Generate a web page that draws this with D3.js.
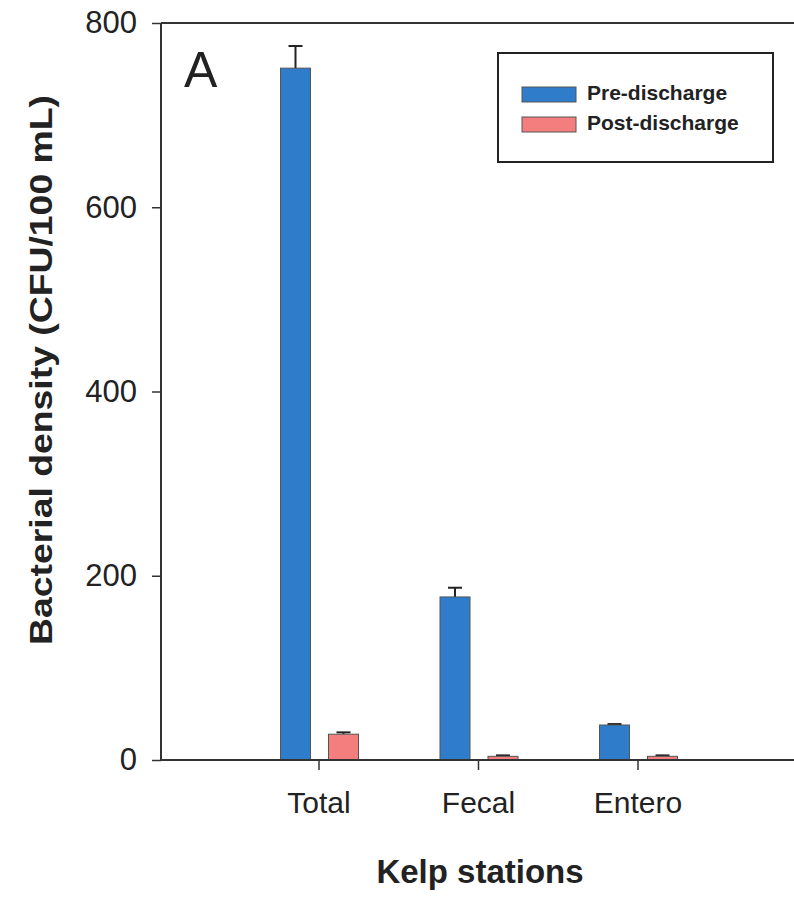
<!DOCTYPE html>
<html>
<head>
<meta charset="utf-8">
<script src="https://cdn.jsdelivr.net/npm/d3@7"></script>
<style>
  body { margin: 0; background: #fff; }
  text { font-family: "Liberation Sans", Arial, sans-serif; fill: #222; }
</style>
</head>
<body>
<div id="container"></div>
<script>
const categories = ["Total", "Fecal", "Entero"];
const seriesNames = ["Pre-discharge", "Post-discharge"];
const preValues = [751, 177, 38];
const preErrors = [24, 10, 1];
const postValues = [28, 4, 4];
const postErrors = [2, 1, 1];
const yTicks = [0, 200, 400, 600, 800];

const width = 794, height = 897;
const plotLeft = 161, plotTop = 23, plotBottom = 760, plotRight = 800;
const colors = { "Pre-discharge": "#2f7ccb", "Post-discharge": "#f47e7e" };

const svg = d3.select('#container')
  .append('svg')
  .attr('width', width)
  .attr('height', height);

const yScale = d3.scaleLinear().domain([0, 800]).range([plotBottom, plotTop]);
// category positions 1..3 on a 0..4 index scale
const xScale = d3.scaleLinear().domain([0, 4]).range([159, 797]);
const inner = d3.scaleBand().domain(seriesNames).range([-38, 40]).paddingInner(0.375);

const rows = categories.map((c, i) => ({
  cat: c, i: i + 1,
  bars: [
    { name: seriesNames[0], value: preValues[i], err: preErrors[i] },
    { name: seriesNames[1], value: postValues[i], err: postErrors[i] }
  ]
}));

// bars
const groups = svg.append('g').selectAll('g')
  .data(rows).join('g')
  .attr('transform', d => `translate(${xScale(d.i)},0)`);

groups.selectAll('line.err')
  .data(d => d.bars).join('line')
  .attr('class', 'err')
  .attr('x1', d => inner(d.name) + inner.bandwidth() / 2)
  .attr('x2', d => inner(d.name) + inner.bandwidth() / 2)
  .attr('y1', d => yScale(d.value))
  .attr('y2', d => yScale(d.value + d.err))
  .attr('stroke', '#222').attr('stroke-width', 2);

groups.selectAll('line.cap')
  .data(d => d.bars).join('line')
  .attr('class', 'cap')
  .attr('x1', d => inner(d.name) + inner.bandwidth() / 2 - 7)
  .attr('x2', d => inner(d.name) + inner.bandwidth() / 2 + 7)
  .attr('y1', d => yScale(d.value + d.err))
  .attr('y2', d => yScale(d.value + d.err))
  .attr('stroke', '#222').attr('stroke-width', 2);

groups.selectAll('rect')
  .data(d => d.bars).join('rect')
  .attr('x', d => inner(d.name))
  .attr('width', inner.bandwidth())
  .attr('y', d => yScale(d.value))
  .attr('height', d => yScale(0) - yScale(d.value))
  .attr('fill', d => colors[d.name])
  .attr('stroke', '#555')
  .attr('stroke-width', 1);

// frame line along the top
svg.append('line')
  .attr('x1', plotLeft).attr('x2', plotRight).attr('y1', plotTop).attr('y2', plotTop)
  .attr('stroke', '#333').attr('stroke-width', 2);

// y axis
const yAxis = svg.append('g')
  .attr('transform', `translate(${plotLeft},0)`)
  .call(d3.axisLeft(yScale).tickValues(yTicks).tickSize(9).tickPadding(15));
yAxis.select('.domain').attr('stroke', '#333').attr('stroke-width', 2)
  .attr('d', `M0,${plotTop}V${plotBottom}`);
yAxis.selectAll('.tick line').attr('stroke', '#333').attr('stroke-width', 1.5);
yAxis.selectAll('.tick text')
  .style('font-family', '"Liberation Sans", Arial, sans-serif')
  .style('font-size', '31px').attr('fill', '#222');

// x axis
const xAxis = svg.append('g')
  .attr('transform', `translate(0,${plotBottom})`)
  .call(d3.axisBottom(xScale).tickValues([1, 2, 3])
    .tickFormat(d => categories[d - 1]).tickSize(10).tickPadding(22));
xAxis.select('.domain').attr('stroke', '#333').attr('stroke-width', 2)
  .attr('d', `M${plotLeft},0H${plotRight}`);
xAxis.selectAll('.tick line').attr('stroke', '#333').attr('stroke-width', 1.5);
xAxis.selectAll('.tick text')
  .style('font-family', '"Liberation Sans", Arial, sans-serif')
  .style('font-size', '30px').attr('fill', '#222');

// axis titles
svg.append('text')
  .attr('transform', `translate(52,${(95 + 645) / 2}) rotate(-90)`)
  .attr('text-anchor', 'middle')
  .style('font-size', '31px').style('font-weight', 'bold')
  .attr('textLength', 550).attr('lengthAdjust', 'spacingAndGlyphs')
  .text('Bacterial density (CFU/100 mL)');

svg.append('text')
  .attr('x', 480).attr('y', 883)
  .attr('text-anchor', 'middle')
  .style('font-size', '33px').style('font-weight', 'bold')
  .text('Kelp stations');

// panel letter
svg.append('text')
  .attr('x', 184).attr('y', 87)
  .style('font-size', '50px')
  .text('A');

// legend
const legend = svg.append('g');
legend.append('rect')
  .attr('x', 498).attr('y', 53).attr('width', 275).attr('height', 109)
  .attr('fill', '#fff').attr('stroke', '#222').attr('stroke-width', 2);
const items = legend.selectAll('g.item')
  .data(seriesNames).join('g')
  .attr('class', 'item')
  .attr('transform', (d, i) => `translate(522,${87 + i * 30})`);
items.append('rect')
  .attr('width', 54).attr('height', 15)
  .attr('fill', d => colors[d]).attr('stroke', '#555').attr('stroke-width', 1);
items.append('text')
  .attr('x', 65).attr('y', 13)
  .style('font-size', '21px').style('font-weight', 'bold')
  .attr('fill', '#333')
  .text(d => d);
</script>
</body>
</html>
